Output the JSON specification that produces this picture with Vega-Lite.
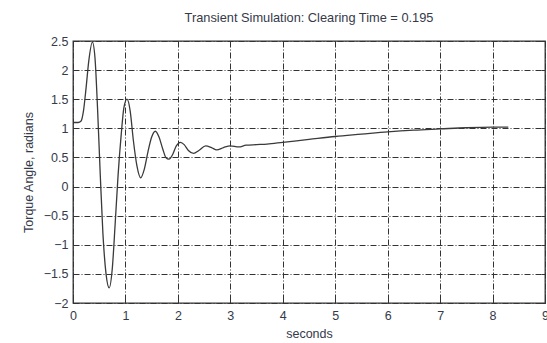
{
  "$schema": "https://vega.github.io/schema/vega-lite/v6.json",
  "autosize": "none",
  "width": 472,
  "height": 262,
  "padding": {"left": 73, "top": 41, "right": 2, "bottom": 40},
  "background": "white",
  "config": {
    "font": "Liberation Sans",
    "view": {"stroke": "#333", "strokeWidth": 1.3},
    "axis": {
      "domain": false,
      "grid": true,
      "gridColor": "#333",
      "gridDash": [6, 2, 1, 2],
      "gridWidth": 1,
      "gridOpacity": 1,
      "ticks": true,
      "tickColor": "#333",
      "tickSize": -4,
      "labelFont": "Liberation Sans",
      "labelFontSize": 12.5,
      "labelColor": "#353a4a",
      "titleFont": "Liberation Sans",
      "titleFontSize": 12.5,
      "titleFontWeight": "normal",
      "titleColor": "#353a4a"
    }
  },
  "title": {
    "text": "Transient Simulation: Clearing Time = 0.195",
    "font": "Liberation Sans",
    "fontSize": 12.8,
    "fontWeight": "normal",
    "color": "#353a4a",
    "anchor": "middle",
    "offset": 10
  },
  "data": {
    "values": [
      {"t": 0, "v": 1.1},
      {"t": 0.1, "v": 1.1},
      {"t": 0.15, "v": 1.12},
      {"t": 0.2, "v": 1.3},
      {"t": 0.25, "v": 1.7},
      {"t": 0.3, "v": 2.15},
      {"t": 0.37, "v": 2.48},
      {"t": 0.42, "v": 2.2},
      {"t": 0.47, "v": 1.3},
      {"t": 0.52, "v": 0.2},
      {"t": 0.57, "v": -0.8},
      {"t": 0.63, "v": -1.5},
      {"t": 0.69, "v": -1.74},
      {"t": 0.75, "v": -1.4},
      {"t": 0.8, "v": -0.7},
      {"t": 0.86, "v": 0.2},
      {"t": 0.92, "v": 0.9},
      {"t": 0.97, "v": 1.35},
      {"t": 1.03, "v": 1.5},
      {"t": 1.09, "v": 1.3},
      {"t": 1.15, "v": 0.8},
      {"t": 1.22, "v": 0.35},
      {"t": 1.29, "v": 0.15},
      {"t": 1.36, "v": 0.3},
      {"t": 1.43, "v": 0.6},
      {"t": 1.5, "v": 0.85},
      {"t": 1.57, "v": 0.95},
      {"t": 1.64, "v": 0.85},
      {"t": 1.71, "v": 0.65},
      {"t": 1.77, "v": 0.5},
      {"t": 1.83, "v": 0.47},
      {"t": 1.9, "v": 0.55},
      {"t": 1.97, "v": 0.7},
      {"t": 2.05, "v": 0.76},
      {"t": 2.12, "v": 0.72},
      {"t": 2.2, "v": 0.62},
      {"t": 2.3, "v": 0.57},
      {"t": 2.4, "v": 0.62},
      {"t": 2.53, "v": 0.7},
      {"t": 2.64, "v": 0.67},
      {"t": 2.74, "v": 0.63},
      {"t": 2.87, "v": 0.67},
      {"t": 3.0, "v": 0.7},
      {"t": 3.16, "v": 0.68},
      {"t": 3.3, "v": 0.71},
      {"t": 3.5, "v": 0.72},
      {"t": 3.7, "v": 0.73},
      {"t": 4.0, "v": 0.76},
      {"t": 4.5, "v": 0.81},
      {"t": 5.0, "v": 0.86},
      {"t": 5.5, "v": 0.9},
      {"t": 6.0, "v": 0.94},
      {"t": 6.5, "v": 0.97},
      {"t": 7.0, "v": 0.99},
      {"t": 7.5, "v": 1.01},
      {"t": 8.0, "v": 1.02},
      {"t": 8.3, "v": 1.02}
    ]
  },
  "layer": [
    {
      "mark": {"type": "line", "interpolate": "monotone", "color": "#3a3a3a", "strokeWidth": 1.3},
      "encoding": {
        "x": {
          "field": "t",
          "type": "quantitative",
          "scale": {"domain": [0, 9], "nice": false},
          "axis": {"orient": "bottom", "title": "seconds", "values": [0,1,2,3,4,5,6,7,8,9], "format": "d", "labelPadding": 10, "titlePadding": 6, "labelFlush": false}
        },
        "y": {
          "field": "v",
          "type": "quantitative",
          "scale": {"domain": [-2, 2.5], "nice": false, "zero": false},
          "axis": {"orient": "left", "title": "Torque Angle, radians", "values": [-2,-1.5,-1,-0.5,0,0.5,1,1.5,2,2.5], "format": "~g", "labelPadding": 9, "titlePadding": 8, "labelFlush": false}
        }
      }
    },
    {
      "mark": {"type": "line", "opacity": 0},
      "encoding": {
        "x": {
          "field": "t",
          "type": "quantitative",
          "axis": {"orient": "top", "title": null, "labels": false, "grid": false, "values": [0,1,2,3,4,5,6,7,8,9]}
        },
        "y": {
          "field": "v",
          "type": "quantitative",
          "axis": {"orient": "right", "title": null, "labels": false, "grid": false, "values": [-2,-1.5,-1,-0.5,0,0.5,1,1.5,2,2.5]}
        }
      }
    }
  ]
}
